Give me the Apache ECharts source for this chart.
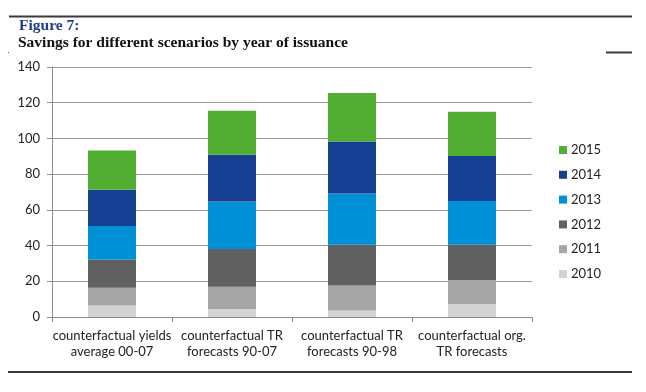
<!DOCTYPE html>
<html><head><meta charset="utf-8">
<script src="https://cdn.jsdelivr.net/npm/echarts@6/dist/echarts.min.js"></script>
<style>html,body{margin:0;padding:0;background:#fff}#c{width:646px;height:392px}</style>
</head><body><div id="c"></div>
<script>
const categories = ['counterfactual yields\naverage 00-07','counterfactual TR\nforecasts 90-07','counterfactual TR\nforecasts 90-98','counterfactual org.\nTR forecasts'];
const s2010 = [6.4, 4.5, 3.6, 7.1];
const s2011 = [10.0, 12.5, 14.0, 13.5];
const s2012 = [15.6, 21.1, 22.8, 19.8];
const s2013 = [19.0, 26.6, 28.8, 24.6];
const s2014 = [20.2, 26.1, 29.1, 25.1];
const s2015 = [22.1, 24.7, 27.1, 24.9];
const yearNames = ['2010','2011','2012','2013','2014','2015'];
const yTicks = [0,20,40,60,80,100,120,140];
const colors = ['#D3D3D3','#A6A6A6','#616161','#0090D6','#163F93','#52AE32'];
const seriesData = [s2010,s2011,s2012,s2013,s2014,s2015];

const chart = echarts.init(document.getElementById('c'));
const font = 'Lato, "Open Sans", sans-serif';
chart.setOption({
  animation:false,
  textStyle:{fontFamily:font},
  grid:{left:52,right:114,top:67,bottom:75},
  graphic:[
    {type:'line',shape:{x1:9,y1:16.5,x2:632,y2:16.5},style:{stroke:'#3a3a3a',lineWidth:2}},
    {type:'line',shape:{x1:606,y1:52.5,x2:632,y2:52.5},style:{stroke:'#3a3a3a',lineWidth:2}},
    {type:'line',shape:{x1:8,y1:372,x2:632,y2:372},style:{stroke:'#3a3a3a',lineWidth:2}},
    {type:'rect',shape:{x:8,y:52,width:1,height:1},style:{fill:'#555'}},
    {type:'text',left:19,top:18,style:{text:'Figure 7:',font:'bold 15.5px "Liberation Serif", "DejaVu Serif", serif',fill:'#1F3D8F'}},
    {type:'text',left:18,top:35,style:{text:'Savings for different scenarios by year of issuance',font:'bold 15.5px "Liberation Serif", "DejaVu Serif", serif',fill:'#111'}}
  ],
  legend:{
    orient:'vertical',left:554,top:138,
    data:yearNames.slice().reverse(),
    icon:'rect',itemWidth:8,itemHeight:8,itemGap:10.8,
    textStyle:{fontSize:13,color:'#222',fontFamily:font,lineHeight:14,padding:[0,0,0,-1]}
  },
  xAxis:{
    type:'category',data:categories,
    axisLine:{lineStyle:{color:'#8c8c8c'}},
    axisTick:{show:true,length:5,lineStyle:{color:'#8c8c8c'}},
    axisLabel:{fontSize:13,color:'#222',lineHeight:16,margin:11,interval:0}
  },
  yAxis:{
    type:'value',min:yTicks[0],max:yTicks[yTicks.length-1],interval:20,
    axisLine:{show:true,lineStyle:{color:'#8c8c8c'}},
    axisTick:{show:true,length:5,lineStyle:{color:'#8c8c8c'}},
    axisLabel:{fontSize:13,color:'#222',margin:12},
    splitLine:{lineStyle:{color:'#9a9a9a'}}
  },
  series:yearNames.map((n,i)=>({
    name:n,type:'bar',stack:'a',barWidth:48,data:seriesData[i],
    itemStyle:{color:colors[i]}
  }))
});
</script></body></html>
